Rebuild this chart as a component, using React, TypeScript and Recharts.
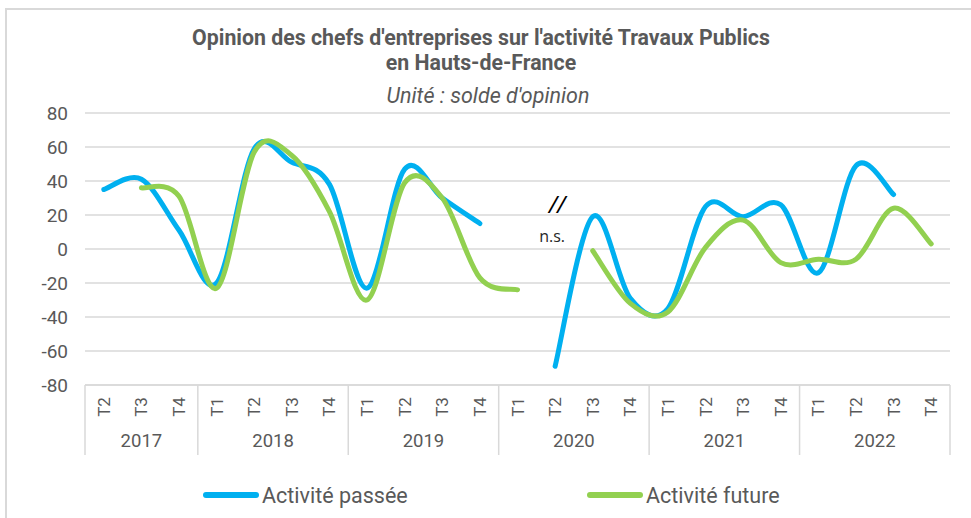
import { LineChart, Line, XAxis, YAxis, CartesianGrid, ReferenceDot } from 'recharts'

const categories = [
  '2017 T2', '2017 T3', '2017 T4',
  '2018 T1', '2018 T2', '2018 T3', '2018 T4',
  '2019 T1', '2019 T2', '2019 T3', '2019 T4',
  '2020 T1', '2020 T2', '2020 T3', '2020 T4',
  '2021 T1', '2021 T2', '2021 T3', '2021 T4',
  '2022 T1', '2022 T2', '2022 T3', '2022 T4',
]
const activitePassee = [35, 41, 11, -20, 59, 51, 38, -23, 47, 30, 15, null, -69, 19, -29, -35, 25, 19, 26, -14, 49, 32, null]
const activiteFuture = [null, 36, 31, -23, 57, 55, 22, -30, 39, 30, -17, -24, null, -1, -32, -37, 1, 17, -8, -6, -6, 24, 3]
const yTicks = [-80, -60, -40, -20, 0, 20, 40, 60, 80]

const W = 971
const H = 518
const margin = { top: 113, right: 21, bottom: 63, left: 0 }
const Y_AXIS_W = 85
const BAND = (W - margin.left - margin.right - Y_AXIS_W) / categories.length

const rows = categories.map((c, i) => {
  const [year, quarter] = c.split(' ')
  return { key: c, year, quarter, passee: activitePassee[i], future: activiteFuture[i] }
})

const GREY = '#595959'
const FONT = 'Roboto, sans-serif'

// Excel-like smoothed line (Catmull-Rom style bezier), used as a curve factory
function excelSmooth(context: any) {
  let pts: number[][] = []
  return {
    areaStart() {},
    areaEnd() {},
    lineStart() {
      pts = []
    },
    point(x: number, y: number) {
      pts.push([+x, +y])
    },
    lineEnd() {
      if (!pts.length) return
      context.moveTo(pts[0][0], pts[0][1])
      if (pts.length === 1) {
        context.lineTo(pts[0][0], pts[0][1])
        return
      }
      for (let i = 0; i < pts.length - 1; i++) {
        const p0 = pts[i - 1] ?? pts[i]
        const p1 = pts[i]
        const p2 = pts[i + 1]
        const p3 = pts[i + 2] ?? pts[i + 1]
        context.bezierCurveTo(
          p1[0] + (p2[0] - p0[0]) / 6,
          p1[1] + (p2[1] - p0[1]) / 6,
          p2[0] - (p3[0] - p1[0]) / 6,
          p2[1] - (p3[1] - p1[1]) / 6,
          p2[0],
          p2[1],
        )
      }
    },
  }
}

function XTick(props: any) {
  const { x, y, payload } = props
  const i = rows.findIndex((r) => r.key === payload.value)
  const row = rows[i]
  const first = i === 0 || rows[i - 1].year !== row.year
  const count = rows.filter((r) => r.year === row.year).length
  const left = x - BAND / 2
  return (
    <g>
      <text
        transform={`translate(${x},${y + 22}) rotate(-90)`}
        textAnchor="middle"
        dominantBaseline="central"
        fontSize={17}
        fill={GREY}
        fontFamily={FONT}
      >
        {row.quarter}
      </text>
      {first && <line x1={left} x2={left} y1={y} y2={y + 70} stroke="#d9d9d9" strokeWidth={1.5} />}
      {i === rows.length - 1 && (
        <line x1={x + BAND / 2} x2={x + BAND / 2} y1={y} y2={y + 70} stroke="#d9d9d9" strokeWidth={1.5} />
      )}
      {first && (
        <text
          x={left + (count * BAND) / 2}
          y={y + 56}
          textAnchor="middle"
          dominantBaseline="central"
          fontSize={18.5}
          fill={GREY}
          fontFamily={FONT}
        >
          {row.year}
        </text>
      )}
    </g>
  )
}

function LegendBox() {
  const items = [
    { label: 'Activité passée', color: '#00b0f0', x: 203 },
    { label: 'Activité future', color: '#92d050', x: 587 },
  ]
  return (
    <div style={{ position: 'absolute', left: 0, top: 481, width: W, height: 30 }}>
      {items.map((it) => (
        <div
          key={it.label}
          style={{ position: 'absolute', left: it.x, top: 0, height: 28, display: 'flex', alignItems: 'center', fontFamily: FONT, fontSize: 21.5, color: GREY }}
        >
          <span style={{ display: 'inline-block', width: 56, height: 6, borderRadius: 3, background: it.color, marginRight: 3 }} />
          {it.label}
        </div>
      ))}
    </div>
  )
}

function NsLabel(props: any) {
  const { viewBox } = props
  const cx = viewBox.x
  const cy = viewBox.y
  return (
    <g fontFamily="'Open Sans', sans-serif">
      <text x={cx + 2} y={cy} textAnchor="middle" dominantBaseline="central" fontSize={24} fontStyle="italic" fill="#000">
        //
      </text>
      <text x={cx - 3} y={cy + 33} textAnchor="middle" dominantBaseline="central" fontSize={16} fill="#262626">
        n.s.
      </text>
    </g>
  )
}

export default function App() {
  return (
    <div style={{ position: 'absolute', left: 0, top: 0, width: W, height: H, background: '#fff', overflow: 'hidden' }}>
      <div style={{ position: 'absolute', left: 5, top: 8, width: W, height: H, borderLeft: '2px solid #d9d9d9', borderTop: '2px solid #d9d9d9' }} />
      <div style={{ position: 'absolute', left: 0, top: 25, width: 962, textAlign: 'center', fontFamily: FONT, fontWeight: 'bold', fontSize: 21.3, lineHeight: '25px', color: GREY }}>
        Opinion des chefs d'entreprises sur l'activité Travaux Publics
        <br />
        en Hauts-de-France
      </div>
      <div style={{ position: 'absolute', left: 0, top: 83, width: 976, textAlign: 'center', fontFamily: FONT, fontStyle: 'italic', fontSize: 21.5, color: GREY }}>
        Unité : solde d'opinion
      </div>
      <div style={{ position: 'absolute', left: 0, top: 0 }}>
        <LineChart width={W} height={H} data={rows} margin={margin}>
          <CartesianGrid vertical={false} stroke="#d9d9d9" strokeWidth={1.5} />
          <XAxis
            dataKey="key"
            interval={0}
            tick={<XTick />}
            tickLine={false}
            tickSize={0}
            tickMargin={0}
            height={70}
            padding={{ left: BAND / 2, right: BAND / 2 }}
            axisLine={{ stroke: '#d9d9d9', strokeWidth: 1.5 }}
          />
          <YAxis
            domain={[-80, 80]}
            ticks={yTicks}
            width={Y_AXIS_W}
            axisLine={false}
            tickLine={false}
            tickMargin={11}
            tick={{ fontSize: 19, fill: GREY, fontFamily: FONT }}
          />
          <ReferenceDot x="2020 T2" y={27} r={0} label={<NsLabel />} />
          <Line
            type={excelSmooth as any}
            dataKey="passee"
            name="Activité passée"
            stroke="#00b0f0"
            strokeWidth={5}
            strokeLinecap="round"
            dot={false}
            activeDot={false}
            isAnimationActive={false}
          />
          <Line
            type={excelSmooth as any}
            dataKey="future"
            name="Activité future"
            stroke="#92d050"
            strokeWidth={5}
            strokeLinecap="round"
            dot={false}
            activeDot={false}
            isAnimationActive={false}
          />
        </LineChart>
      </div>
      <LegendBox />
    </div>
  )
}
